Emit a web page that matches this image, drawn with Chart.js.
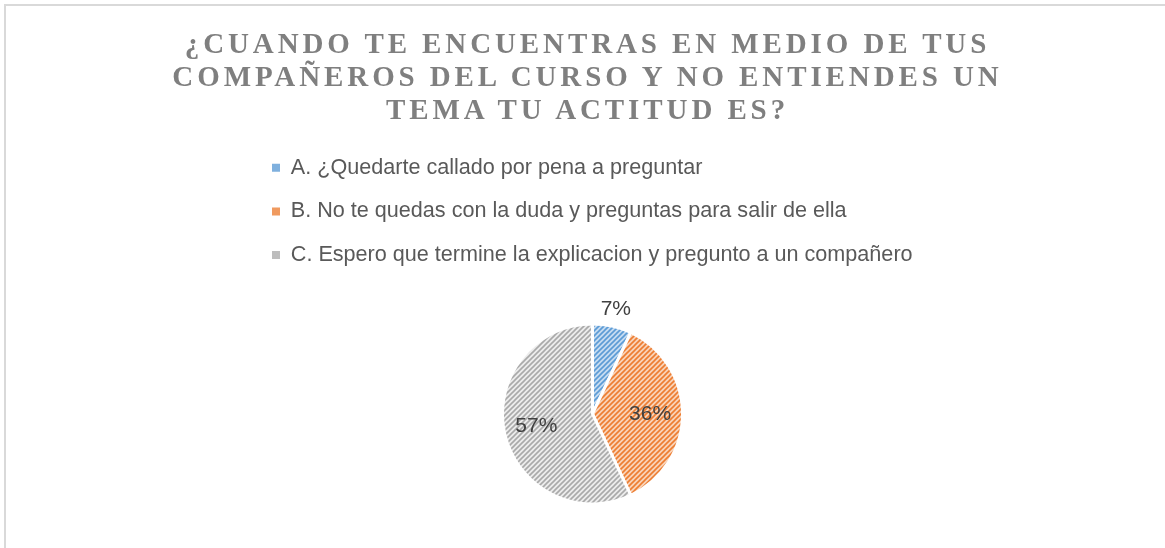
<!DOCTYPE html>
<html>
<head>
<meta charset="utf-8">
<script src="https://cdn.jsdelivr.net/npm/chart.js@4"></script>
<style>
  html, body { margin: 0; padding: 0; background: #fff; }
  #wrap { position: relative; width: 1165px; height: 548px; overflow: hidden; }
  #frame { position: absolute; left: 4px; top: 4px; width: 1200px; height: 600px;
           border-left: 2px solid #d9d9d9; border-top: 2px solid #d9d9d9; }
  #title { position: absolute; left: 5px; top: 27px; width: 1165px; text-align: center;
           font-family: 'Liberation Serif', serif; font-weight: bold; font-size: 29px;
           line-height: 33px; letter-spacing: 3.9px; color: #7f7f7f; }
  canvas { position: absolute; left: 0; top: 0; }
</style>
</head>
<body>
<div id="wrap">
  <div id="frame"></div>
  <canvas id="pie" width="1165" height="556"></canvas>
  <div id="title">¿CUANDO TE ENCUENTRAS EN MEDIO DE TUS<br>COMPAÑEROS DEL CURSO Y NO ENTIENDES UN<br>TEMA TU ACTITUD ES?</div>
</div>
<script>
// datos
var categorias = [
  'A. ¿Quedarte callado por pena a preguntar',
  'B. No te quedas con la duda y preguntas para salir de ella',
  'C. Espero que termine la explicacion y pregunto a un compañero'
];
var porcentajes = [7, 36, 57];
var etiquetas = ['7%', '36%', '57%'];

// rayado diagonal tipo Excel
function rayado(fondo, linea) {
  var c = document.createElement('canvas');
  c.width = 5; c.height = 5;
  var g = c.getContext('2d');
  g.fillStyle = fondo;
  g.fillRect(0, 0, 5, 5);
  g.strokeStyle = linea;
  g.lineWidth = 1.6;
  g.beginPath();
  g.moveTo(-1, 6); g.lineTo(6, -1);
  g.moveTo(-1, 1); g.lineTo(1, -1);
  g.moveTo(4, 6); g.lineTo(6, 4);
  g.stroke();
  return g.createPattern(c, 'repeat');
}

var colores = [
  rayado('#c6dcf1', '#5b9bd5'),
  rayado('#f9d3b8', '#ed7d31'),
  rayado('#ececec', '#a9a9a9')
];
var coloresLeyenda = ['#7fb0de', '#f09a5f', '#bdbdbd'];

var etiquetasPlugin = {
  id: 'etiquetas',
  afterDatasetsDraw: function(chart) {
    var ctx = chart.ctx;
    var arcs = chart.getDatasetMeta(0).data;
    ctx.save();
    ctx.font = '21px "Liberation Sans", sans-serif';
    ctx.fillStyle = '#404040';
    ctx.textAlign = 'center';
    ctx.textBaseline = 'middle';
    arcs.forEach(function(a, i) {
      var p = a.getProps(['x', 'y', 'startAngle', 'endAngle', 'outerRadius'], true);
      var mid = (p.startAngle + p.endAngle) / 2;
      var d = porcentajes[i] < 10 ? p.outerRadius + 17 : p.outerRadius * 0.64;
      ctx.fillText(etiquetas[i], p.x + Math.cos(mid) * d, p.y + Math.sin(mid) * d);
    });
    ctx.restore();
  }
};

new Chart(document.getElementById('pie').getContext('2d'), {
  type: 'pie',
  data: {
    labels: categorias,
    datasets: [{
      data: porcentajes,
      backgroundColor: colores,
      borderColor: '#ffffff',
      borderWidth: 3,
      radius: 90
    }]
  },
  options: {
    responsive: false,
    animation: false,
    layout: { padding: { top: 135, left: 250, right: 230, bottom: 4 } },
    plugins: {
      tooltip: { enabled: false },
      legend: {
        position: 'top',
        align: 'start',
        labels: {
          color: '#595959',
          font: { family: "'Liberation Sans', sans-serif", size: 21.6 },
          boxWidth: 8, boxHeight: 8, padding: 22,
          generateLabels: function(chart) {
            return categorias.map(function(c, i) {
              return { text: c, fillStyle: coloresLeyenda[i], strokeStyle: coloresLeyenda[i],
                       lineWidth: 0, fontColor: '#595959', index: i, hidden: false };
            });
          }
        }
      }
    }
  },
  plugins: [etiquetasPlugin]
});
</script>
</body>
</html>
